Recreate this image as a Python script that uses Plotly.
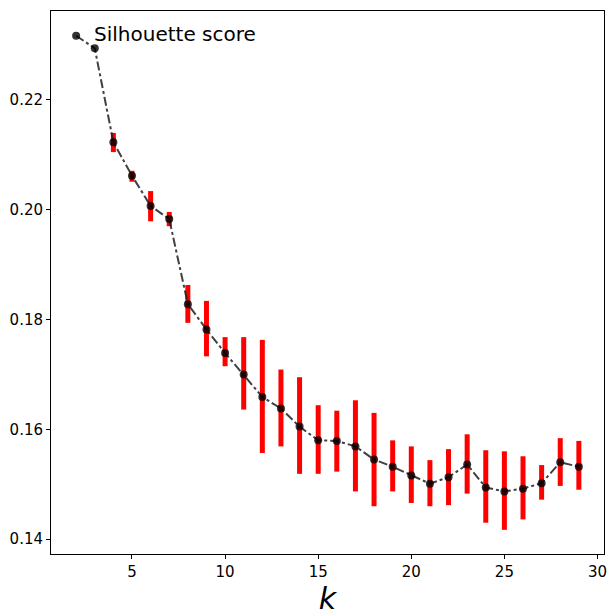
import plotly.graph_objects as go

# silhouette score vs number of clusters k
k_values = list(range(2, 30))
score = [0.2317, 0.2294, 0.2123, 0.2062, 0.2007, 0.1983, 0.1828, 0.1782,
         0.1739, 0.1700, 0.1659, 0.1638, 0.1605, 0.1580, 0.1579, 0.1569,
         0.1545, 0.1532, 0.1516, 0.1501, 0.1513, 0.1536, 0.1494, 0.1487,
         0.1492, 0.1502, 0.1540, 0.1532]
# upper / lower ends of the red error bars (None = no bar)
err_top = [None, None, 0.2140, 0.2071, 0.2034, 0.1996, 0.1863, 0.1834,
           0.1768, 0.1768, 0.1763, 0.1709, 0.1695, 0.1644, 0.1634, 0.1653,
           0.1630, 0.1580, 0.1569, 0.1544, 0.1564, 0.1591, 0.1562, 0.1560,
           0.1551, 0.1535, 0.1584, 0.1579]
err_bottom = [None, None, 0.2105, 0.2051, 0.1979, 0.1970, 0.1794, 0.1733,
              0.1715, 0.1636, 0.1557, 0.1569, 0.1519, 0.1519, 0.1523, 0.1487,
              0.1460, 0.1487, 0.1466, 0.1460, 0.1462, 0.1483, 0.1430, 0.1417,
              0.1436, 0.1472, 0.1497, 0.1490]

plus = [0 if t is None else t - s for t, s in zip(err_top, score)]
minus = [0 if b is None else s - b for b, s in zip(err_bottom, score)]

fig = go.Figure()

# error bars drawn first so the points sit on top
fig.add_trace(go.Scatter(x=k_values, y=score, mode='markers',
                         marker=dict(size=1, opacity=0),
                         error_y=dict(type='data', symmetric=False,
                                      array=plus, arrayminus=minus,
                                      color='red', thickness=5, width=0),
                         showlegend=False, hoverinfo='skip'))

fig.add_trace(go.Scatter(x=k_values, y=score, mode='lines+markers',
                         line=dict(color='rgba(30,30,30,0.85)', width=2,
                                   dash='dashdot'),
                         marker=dict(size=8, color='rgba(0,0,0,0.8)'),
                         showlegend=False))

fig.add_annotation(x=0.075, y=0.958, xref='paper', yref='paper',
                   xanchor='left', yanchor='middle', showarrow=False,
                   text='Silhouette score',
                   font=dict(size=20, color='black'))

axis_common = dict(showline=True, linecolor='black', linewidth=1, mirror=True,
                   ticks='outside', ticklen=4, tickcolor='black',
                   showgrid=False, zeroline=False,
                   tickfont=dict(size=15, color='black'))

# the page body adds an offset, so the figure is a bit smaller than the window
fig.update_layout(
    width=608, height=608,
    margin=dict(l=37, r=12, t=2, b=62),
    plot_bgcolor='white', paper_bgcolor='white',
    font=dict(family='DejaVu Sans', color='black'),
    xaxis=dict(range=[0.65, 30.35], tickvals=[5, 10, 15, 20, 25, 30],
               title=dict(text='<i>k</i>', font=dict(size=30), standoff=0),
               **axis_common),
    yaxis=dict(range=[0.1373, 0.2362],
               tickvals=[0.14, 0.16, 0.18, 0.20, 0.22],
               ticktext=['0.14', '0.16', '0.18', '0.20', '0.22'],
               **axis_common),
)

fig.write_html("out.html")
